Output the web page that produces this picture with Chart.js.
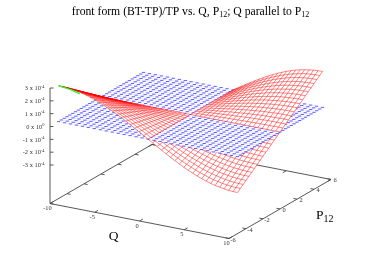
<!DOCTYPE html>
<html lang="en">

<head>
    <meta charset="UTF-8">
    <title>front form (BT-TP)/TP</title>
    <style>
        html,
        body {
            padding: 0;
            margin: 0;
            background: #fff;
        }

        canvas {
            display: block;
        }
    </style>
</head>

<body>
    <canvas id="surfaceChart" width="382" height="267"></canvas>
</body>

<script src="https://cdn.jsdelivr.net/npm/chart.js@4.4.6/dist/chart.umd.min.js"></script>
<script>
    const qValues = [-10, -9.5, -9, -8.5, -8, -7.5, -7, -6.5, -6, -5.5, -5, -4.5, -4, -3.5, -3, -2.5, -2, -1.5, -1, -0.5, 0,
        0.5, 1, 1.5, 2, 2.5, 3, 3.5, 4, 4.5, 5, 5.5, 6, 6.5, 7, 7.5, 8, 8.5, 9, 9.5, 10];
    const pValues = [-5, -4.67, -4.33, -4, -3.67, -3.33, -3, -2.67, -2.33, -2, -1.67, -1.33, -1, -0.67, -0.33, 0,
        0.33, 0.67, 1, 1.33, 1.67, 2, 2.33, 2.67, 3, 3.33, 3.67, 4, 4.33, 4.67, 5];
    // red surface in hundredths of 1e-4, one row per P, one column per Q
    const zRows = [
        [280, 279, 277, 272, 266, 259, 250, 239, 227, 213, 198, 182, 165, 146, 127, 107, 87, 65, 44, 22, 0, -22, -44, -65, -87, -107, -127, -146, -165, -182, -198, -213, -227, -239, -250, -259, -266, -272, -277, -279, -280],
        [261, 261, 258, 254, 249, 241, 233, 223, 211, 199, 185, 170, 154, 137, 119, 100, 81, 61, 41, 21, 0, -21, -41, -61, -81, -100, -119, -137, -154, -170, -185, -199, -211, -223, -233, -241, -249, -254, -258, -261, -261],
        [243, 242, 240, 236, 231, 224, 216, 207, 196, 185, 172, 158, 143, 127, 110, 93, 75, 57, 38, 19, 0, -19, -38, -57, -75, -93, -110, -127, -143, -158, -172, -185, -196, -207, -216, -224, -231, -236, -240, -242, -243],
        [224, 223, 221, 218, 213, 207, 200, 191, 181, 170, 158, 145, 132, 117, 102, 86, 69, 52, 35, 18, 0, -18, -35, -52, -69, -86, -102, -117, -132, -145, -158, -170, -181, -191, -200, -207, -213, -218, -221, -223, -224],
        [205, 205, 203, 200, 195, 190, 183, 175, 166, 156, 145, 133, 121, 107, 93, 79, 63, 48, 32, 16, 0, -16, -32, -48, -63, -79, -93, -107, -121, -133, -145, -156, -166, -175, -183, -190, -195, -200, -203, -205, -205],
        [187, 186, 184, 182, 178, 172, 166, 159, 151, 142, 132, 121, 110, 98, 85, 71, 58, 44, 29, 15, 0, -15, -29, -44, -58, -71, -85, -98, -110, -121, -132, -142, -151, -159, -166, -172, -178, -182, -184, -186, -187],
        [168, 167, 166, 163, 160, 155, 150, 143, 136, 128, 119, 109, 99, 88, 76, 64, 52, 39, 26, 13, 0, -13, -26, -39, -52, -64, -76, -88, -99, -109, -119, -128, -136, -143, -150, -155, -160, -163, -166, -167, -168],
        [149, 149, 147, 145, 142, 138, 133, 127, 121, 114, 106, 97, 88, 78, 68, 57, 46, 35, 23, 12, 0, -12, -23, -35, -46, -57, -68, -78, -88, -97, -106, -114, -121, -127, -133, -138, -142, -145, -147, -149, -149],
        [131, 130, 129, 127, 124, 121, 116, 111, 106, 99, 92, 85, 77, 68, 59, 50, 40, 30, 20, 10, 0, -10, -20, -30, -40, -50, -59, -68, -77, -85, -92, -99, -106, -111, -116, -121, -124, -127, -129, -130, -131],
        [112, 112, 111, 109, 107, 103, 100, 95, 91, 85, 79, 73, 66, 59, 51, 43, 35, 26, 18, 9, 0, -9, -18, -26, -35, -43, -51, -59, -66, -73, -79, -85, -91, -95, -100, -103, -107, -109, -111, -112, -112],
        [93, 93, 92, 91, 89, 86, 83, 80, 76, 71, 66, 61, 55, 49, 42, 36, 29, 22, 15, 7, 0, -7, -15, -22, -29, -36, -42, -49, -55, -61, -66, -71, -76, -80, -83, -86, -89, -91, -92, -93, -93],
        [75, 74, 74, 73, 71, 69, 67, 64, 60, 57, 53, 48, 44, 39, 34, 29, 23, 17, 12, 6, 0, -6, -12, -17, -23, -29, -34, -39, -44, -48, -53, -57, -60, -64, -67, -69, -71, -73, -74, -74, -75],
        [56, 56, 55, 54, 53, 52, 50, 48, 45, 43, 40, 36, 33, 29, 25, 21, 17, 13, 9, 4, 0, -4, -9, -13, -17, -21, -25, -29, -33, -36, -40, -43, -45, -48, -50, -52, -53, -54, -55, -56, -56],
        [37, 37, 37, 36, 36, 35, 33, 32, 30, 28, 26, 24, 22, 20, 17, 14, 12, 9, 6, 3, 0, -3, -6, -9, -12, -14, -17, -20, -22, -24, -26, -28, -30, -32, -33, -35, -36, -36, -37, -37, -37],
        [19, 19, 18, 18, 18, 17, 17, 16, 15, 14, 13, 12, 11, 10, 8, 7, 6, 4, 3, 1, 0, -1, -3, -4, -6, -7, -8, -10, -11, -12, -13, -14, -15, -16, -17, -17, -18, -18, -18, -19, -19],
        [0, 0, 0, 0, 0, 0, 0, 0, 0, 0, 0, 0, 0, 0, 0, 0, 0, 0, 0, 0, 0, 0, 0, 0, 0, 0, 0, 0, 0, 0, 0, 0, 0, 0, 0, 0, 0, 0, 0, 0, 0],
        [-19, -19, -18, -18, -18, -17, -17, -16, -15, -14, -13, -12, -11, -10, -8, -7, -6, -4, -3, -1, 0, 1, 3, 4, 6, 7, 8, 10, 11, 12, 13, 14, 15, 16, 17, 17, 18, 18, 18, 19, 19],
        [-37, -37, -37, -36, -36, -35, -33, -32, -30, -28, -26, -24, -22, -20, -17, -14, -12, -9, -6, -3, 0, 3, 6, 9, 12, 14, 17, 20, 22, 24, 26, 28, 30, 32, 33, 35, 36, 36, 37, 37, 37],
        [-56, -56, -55, -54, -53, -52, -50, -48, -45, -43, -40, -36, -33, -29, -25, -21, -17, -13, -9, -4, 0, 4, 9, 13, 17, 21, 25, 29, 33, 36, 40, 43, 45, 48, 50, 52, 53, 54, 55, 56, 56],
        [-75, -74, -74, -73, -71, -69, -67, -64, -60, -57, -53, -48, -44, -39, -34, -29, -23, -17, -12, -6, 0, 6, 12, 17, 23, 29, 34, 39, 44, 48, 53, 57, 60, 64, 67, 69, 71, 73, 74, 74, 75],
        [-93, -93, -92, -91, -89, -86, -83, -80, -76, -71, -66, -61, -55, -49, -42, -36, -29, -22, -15, -7, 0, 7, 15, 22, 29, 36, 42, 49, 55, 61, 66, 71, 76, 80, 83, 86, 89, 91, 92, 93, 93],
        [-112, -112, -111, -109, -107, -103, -100, -95, -91, -85, -79, -73, -66, -59, -51, -43, -35, -26, -18, -9, 0, 9, 18, 26, 35, 43, 51, 59, 66, 73, 79, 85, 91, 95, 100, 103, 107, 109, 111, 112, 112],
        [-131, -130, -129, -127, -124, -121, -116, -111, -106, -99, -92, -85, -77, -68, -59, -50, -40, -30, -20, -10, 0, 10, 20, 30, 40, 50, 59, 68, 77, 85, 92, 99, 106, 111, 116, 121, 124, 127, 129, 130, 131],
        [-149, -149, -147, -145, -142, -138, -133, -127, -121, -114, -106, -97, -88, -78, -68, -57, -46, -35, -23, -12, 0, 12, 23, 35, 46, 57, 68, 78, 88, 97, 106, 114, 121, 127, 133, 138, 142, 145, 147, 149, 149],
        [-168, -167, -166, -163, -160, -155, -150, -143, -136, -128, -119, -109, -99, -88, -76, -64, -52, -39, -26, -13, 0, 13, 26, 39, 52, 64, 76, 88, 99, 109, 119, 128, 136, 143, 150, 155, 160, 163, 166, 167, 168],
        [-187, -186, -184, -182, -178, -172, -166, -159, -151, -142, -132, -121, -110, -98, -85, -71, -58, -44, -29, -15, 0, 15, 29, 44, 58, 71, 85, 98, 110, 121, 132, 142, 151, 159, 166, 172, 178, 182, 184, 186, 187],
        [-205, -205, -203, -200, -195, -190, -183, -175, -166, -156, -145, -133, -121, -107, -93, -79, -63, -48, -32, -16, 0, 16, 32, 48, 63, 79, 93, 107, 121, 133, 145, 156, 166, 175, 183, 190, 195, 200, 203, 205, 205],
        [-224, -223, -221, -218, -213, -207, -200, -191, -181, -170, -158, -145, -132, -117, -102, -86, -69, -52, -35, -18, 0, 18, 35, 52, 69, 86, 102, 117, 132, 145, 158, 170, 181, 191, 200, 207, 213, 218, 221, 223, 224],
        [-243, -242, -240, -236, -231, -224, -216, -207, -196, -185, -172, -158, -143, -127, -110, -93, -75, -57, -38, -19, 0, 19, 38, 57, 75, 93, 110, 127, 143, 158, 172, 185, 196, 207, 216, 224, 231, 236, 240, 242, 243],
        [-261, -261, -258, -254, -249, -241, -233, -223, -211, -199, -185, -170, -154, -137, -119, -100, -81, -61, -41, -21, 0, 21, 41, 61, 81, 100, 119, 137, 154, 170, 185, 199, 211, 223, 233, 241, 249, 254, 258, 261, 261],
        [-280, -279, -277, -272, -266, -259, -250, -239, -227, -213, -198, -182, -165, -146, -127, -107, -87, -65, -44, -22, 0, 22, 44, 65, 87, 107, 127, 146, 165, 182, 198, 213, 227, 239, 250, 259, 266, 272, 277, 279, 280],
    ];
    // blue plane sits at z = 0 on its own coarser Q grid
    const planeQ = [-10, -9.33, -8.67, -8, -7.33, -6.67, -6, -5.33, -4.67, -4, -3.33, -2.67, -2, -1.33, -0.67, 0,
        0.67, 1.33, 2, 2.67, 3.33, 4, 4.67, 5.33, 6, 6.67, 7.33, 8, 8.67, 9.33, 10];
    const planeZ = 0;
    // green curve along the Q = -10 edge
    const greenP = [-5, -4.5, -4, -3.5, -3, -2.5];
    const greenZ = [2.8, 2.5, 2.2, 1.9, 1.55, 1.2];

    const qTicks = [-10, -5, 0, 5, 10];
    const pTicks = [-6, -4, -2, 0, 2, 4, 6];
    const zTicks = [3, 2, 1, 0, -1, -2, -3];
    const zTickExps = ['-4', '-4', '-4', '0', '-4', '-4', '-4'];
    const zBase = -6;
    const zTop = 3;

    // view of the box, in picture pixels per data unit
    function projX(q, p) {
        return 50 + (q + 10) * 8.95 + (p + 6) * 8.5;
    }
    function projY(q, p, z) {
        return 203.5 + (q + 10) * 1.75 - (p + 6) * 4.92 - (z - zBase) * 12.83;
    }
    const pt = (q, p, z) => ({ x: projX(q, p), y: projY(q, p, z) });

    const surface = { qs: qValues, ps: pValues, zAt: (i, j) => zRows[j][i] / 100 };
    const plane = { qs: planeQ, ps: pValues, zAt: () => planeZ };

    function mesh({ qs, ps, zAt }, i0, i1, j0, j1) {
        const out = [];
        for (let j = j0; j <= j1; j++) {
            for (let i = i0; i <= i1; i++) out.push(pt(qs[i], ps[j], zAt(i, j)));
            out.push({ x: null, y: null });
        }
        for (let i = i0; i <= i1; i++) {
            for (let j = j0; j <= j1; j++) out.push(pt(qs[i], ps[j], zAt(i, j)));
            out.push({ x: null, y: null });
        }
        return out;
    }
    function nodes({ qs, ps, zAt }) {
        const out = [];
        ps.forEach((p, j) => qs.forEach((q, i) => out.push(pt(q, p, zAt(i, j)))));
        return out;
    }
    function outline({ qs, ps, zAt }, i0, i1, j0, j1) {
        const out = [];
        for (let i = i0; i <= i1; i++) out.push(pt(qs[i], ps[j0], zAt(i, j0)));
        for (let j = j0 + 1; j <= j1; j++) out.push(pt(qs[i1], ps[j], zAt(i1, j)));
        for (let i = i1 - 1; i >= i0; i--) out.push(pt(qs[i], ps[j1], zAt(i, j1)));
        for (let j = j1 - 1; j >= j0; j--) out.push(pt(qs[i0], ps[j], zAt(i0, j)));
        return out;
    }

    function boxLines() {
        const out = [];
        const seg = (a, b) => out.push(a, b, { x: null, y: null });
        seg(pt(-10, -6, zBase), pt(10, -6, zBase));
        seg(pt(10, -6, zBase), pt(10, 6, zBase));
        seg(pt(10, 6, zBase), pt(-10, 6, zBase));
        seg(pt(-10, 6, zBase), pt(-10, -6, zBase));
        seg(pt(-10, -6, zBase), pt(-10, -6, zTop));
        qTicks.forEach(q => {
            seg(pt(q, -6, zBase), pt(q, -5.6, zBase));
            seg(pt(q, 6, zBase), pt(q, 5.6, zBase));
        });
        pTicks.forEach(p => {
            seg(pt(-10, p, zBase), pt(-9.6, p, zBase));
            seg(pt(10, p, zBase), pt(9.6, p, zBase));
        });
        zTicks.forEach(z => {
            const a = pt(-10, -6, z);
            seg(a, { x: a.x + 3.5, y: a.y });
        });
        return out;
    }

    const whiteFill = data => ({
        data, fill: 'shape', backgroundColor: '#fff', borderColor: 'rgba(0,0,0,0)', borderWidth: 0,
    });
    const wires = (data, color, width) => ({ data, borderColor: color, borderWidth: width });

    const redColor = 'rgba(255,0,0,0.6)';
    // bottom layer first, each later set covers what lies beneath it
    const layers = [
        wires(boxLines(), '#444', 0.9),
        whiteFill(outline(surface, 20, 40, 0, 15)),
        wires(mesh(surface, 20, 40, 0, 15), redColor, 0.8),
        whiteFill(outline(plane, 0, 30, 0, 30)),
        wires(mesh(plane, 0, 30, 0, 30), 'rgba(0,0,255,0.14)', 0.5),
        {
            data: nodes(plane), showLine: false, pointStyle: 'line', pointRadius: 1.6,
            pointBorderColor: 'rgba(0,0,255,0.6)', pointBorderWidth: 1,
        },
        whiteFill(outline(surface, 0, 20, 0, 15)),
        wires(mesh(surface, 0, 20, 0, 15), redColor, 0.8),
        whiteFill(outline(surface, 20, 40, 15, 30)),
        wires(mesh(surface, 20, 40, 15, 30), redColor, 0.8),
        wires(greenP.map((p, i) => pt(-10, p, greenZ[i])), '#2f2', 1.2),
    ];

    const serif = '"Liberation Serif", "Times New Roman", serif';

    function drawScript(ctx, parts, x, y, align) {
        // parts: [text, size, baseline shift]
        const widths = parts.map(([t, size]) => {
            ctx.font = size + 'px ' + serif;
            return ctx.measureText(t).width;
        });
        const total = widths.reduce((a, b) => a + b, 0);
        let cx = align === 'right' ? x - total : align === 'center' ? x - total / 2 : x;
        parts.forEach(([t, size, shift], i) => {
            ctx.font = size + 'px ' + serif;
            ctx.fillText(t, cx, y + (shift || 0));
            cx += widths[i];
        });
    }

    const labelPlugin = {
        id: 'labels3d',
        afterDraw(chart) {
            const { ctx, scales } = chart;
            const px = (a) => ({ x: scales.x.getPixelForValue(a.x), y: scales.y.getPixelForValue(a.y) });
            ctx.save();
            ctx.textBaseline = 'alphabetic';
            ctx.fillStyle = '#000';
            drawScript(ctx, [['front form (BT-TP)/TP vs. Q, P', 11.7], ['12', 8, 2], ['; Q parallel to P', 11.7], ['12', 8, 2]], 190.5, 15, 'center');
            drawScript(ctx, [['Q', 13.5]], 113.5, 239.5, 'center');
            drawScript(ctx, [['P', 13.5], ['12', 10, 3]], 316, 219, 'left');

            ctx.fillStyle = '#333';
            zTicks.forEach((z, i) => {
                const a = px(pt(-10, -6, z));
                drawScript(ctx, [[z + ' x 10', 6.4], [zTickExps[i], 4.4, -2.6]], a.x - 5.5, a.y + 2.2, 'right');
            });
            qTicks.forEach(q => {
                const a = px(pt(q, -6, zBase));
                drawScript(ctx, [[String(q), 6.4]], a.x - 2.5, a.y + 6.5, 'center');
            });
            pTicks.forEach(p => {
                const a = px(pt(10, p, zBase));
                drawScript(ctx, [[String(p), 6.4]], a.x + 4, a.y + 3, 'center');
            });
            ctx.restore();
        },
    };

    const surfaceChart = document.getElementById('surfaceChart');
    const chart = new Chart(surfaceChart, {
        type: 'scatter',
        data: {
            datasets: layers.map((layer, i) => ({
                showLine: true,
                pointRadius: 0,
                tension: 0,
                spanGaps: false,
                ...layer,
                order: -i,
            })),
        },
        options: {
            responsive: false,
            animation: false,
            events: [],
            layout: { padding: 0, autoPadding: false },
            scales: {
                x: { type: 'linear', min: 0, max: 382, display: false },
                y: { type: 'linear', min: 0, max: 267, reverse: true, display: false },
            },
            plugins: {
                legend: { display: false },
                tooltip: { enabled: false },
            },
        },
        plugins: [labelPlugin],
    });
</script>

</html>
